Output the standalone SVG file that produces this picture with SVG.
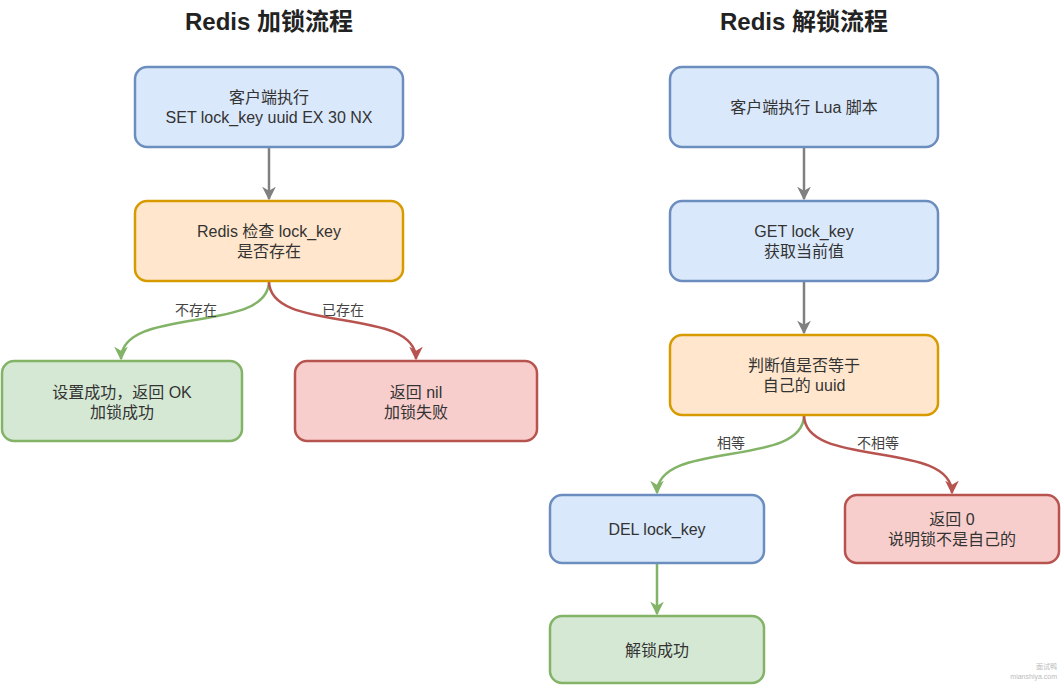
<svg xmlns="http://www.w3.org/2000/svg" width="1061" height="685" viewBox="0 0 1061 685">
<style>
.t{font-family:"Liberation Sans","Noto Sans CJK SC",sans-serif;font-size:16px;fill:#333;text-anchor:middle}
.title{font-family:"Liberation Sans","Noto Sans CJK SC",sans-serif;font-size:24px;font-weight:bold;fill:#222;text-anchor:middle}
.lbl{font-family:"Liberation Sans","Noto Sans CJK SC",sans-serif;font-size:14px;fill:#444;text-anchor:middle}
.blue{fill:#dae8fc;stroke:#6c8ebf;stroke-width:2.5}
.orange{fill:#ffe6cc;stroke:#d79b00;stroke-width:2.5}
.green{fill:#d5e8d4;stroke:#82b366;stroke-width:2.5}
.red{fill:#f8cecc;stroke:#b85450;stroke-width:2.5}
.c{fill:none;stroke-width:2.5}
</style>
<defs>
<marker id="ag" viewBox="0 0 10 10" refX="9" refY="5" markerWidth="5.5" markerHeight="5.5" orient="auto" markerUnits="strokeWidth"><path d="M0,0 L10,5 L0,10 L3,5 Z" fill="#808080"/></marker>
<marker id="agr" viewBox="0 0 10 10" refX="9" refY="5" markerWidth="5.5" markerHeight="5.5" orient="auto" markerUnits="strokeWidth"><path d="M0,0 L10,5 L0,10 L3,5 Z" fill="#82b366"/></marker>
<marker id="ar" viewBox="0 0 10 10" refX="9" refY="5" markerWidth="5.5" markerHeight="5.5" orient="auto" markerUnits="strokeWidth"><path d="M0,0 L10,5 L0,10 L3,5 Z" fill="#b85450"/></marker>
</defs>
<rect width="1061" height="685" fill="#fff"/>
<text class="title" x="269" y="30">Redis 加锁流程</text>
<text class="title" x="804" y="30">Redis 解锁流程</text>
<g id="connectors">
<path class="c" stroke="#808080" d="M269,147 L269,199" marker-end="url(#ag)"/>
<path class="c" stroke="#82b366" d="M269,281 C269,335 121,305 121,359" marker-end="url(#agr)"/>
<path class="c" stroke="#b85450" d="M269,281 C269,335 416,305 416,359" marker-end="url(#ar)"/>
<path class="c" stroke="#808080" d="M804,147 L804,199" marker-end="url(#ag)"/>
<path class="c" stroke="#808080" d="M804,281 L804,333" marker-end="url(#ag)"/>
<path class="c" stroke="#82b366" d="M804,415 C804,469 657,439 657,493" marker-end="url(#agr)"/>
<path class="c" stroke="#b85450" d="M804,415 C804,469 952,439 952,493" marker-end="url(#ar)"/>
<path class="c" stroke="#82b366" d="M657,563 L657,614" marker-end="url(#agr)"/>
<text class="lbl" x="196" y="315">不存在</text>
<text class="lbl" x="343" y="315">已存在</text>
<text class="lbl" x="731" y="448">相等</text>
<text class="lbl" x="878" y="448">不相等</text>
</g>
<g id="n1"><rect class="blue" x="135" y="67" width="268" height="80" rx="12"/><text class="t" x="269" y="103">客户端执行</text><text class="t" x="269" y="123">SET lock_key uuid EX 30 NX</text></g>
<g id="n2"><rect class="orange" x="135" y="201" width="268" height="80" rx="12"/><text class="t" x="269" y="237">Redis 检查 lock_key</text><text class="t" x="269" y="257">是否存在</text></g>
<g id="n3"><rect class="green" x="2" y="361" width="240" height="80" rx="12"/><text class="t" x="122" y="398">设置成功，返回 OK</text><text class="t" x="122" y="418">加锁成功</text></g>
<g id="n4"><rect class="red" x="295" y="361" width="242" height="80" rx="12"/><text class="t" x="416" y="398">返回 nil</text><text class="t" x="416" y="418">加锁失败</text></g>
<g id="m1"><rect class="blue" x="670" y="67" width="268" height="80" rx="12"/><text class="t" x="804" y="113">客户端执行 Lua 脚本</text></g>
<g id="m2"><rect class="blue" x="670" y="201" width="268" height="80" rx="12"/><text class="t" x="804" y="237">GET lock_key</text><text class="t" x="804" y="257">获取当前值</text></g>
<g id="m3"><rect class="orange" x="670" y="335" width="268" height="80" rx="12"/><text class="t" x="804" y="371">判断值是否等于</text><text class="t" x="804" y="391">自己的 uuid</text></g>
<g id="m4"><rect class="blue" x="550" y="495" width="214" height="68" rx="12"/><text class="t" x="657" y="535">DEL lock_key</text></g>
<g id="m5"><rect class="red" x="845" y="495" width="214" height="68" rx="12"/><text class="t" x="952" y="525">返回 0</text><text class="t" x="952" y="545">说明锁不是自己的</text></g>
<g id="m6"><rect class="green" x="550" y="616" width="214" height="67" rx="12"/><text class="t" x="657" y="656">解锁成功</text></g>
<text x="1057" y="669" font-family="Liberation Sans,Noto Sans CJK SC,sans-serif" font-size="7" fill="#bbb" text-anchor="end">面试鸭</text>
<text x="1057" y="679" font-family="Liberation Sans,sans-serif" font-size="7" fill="#bbb" text-anchor="end">mianshiya.com</text>
</svg>
